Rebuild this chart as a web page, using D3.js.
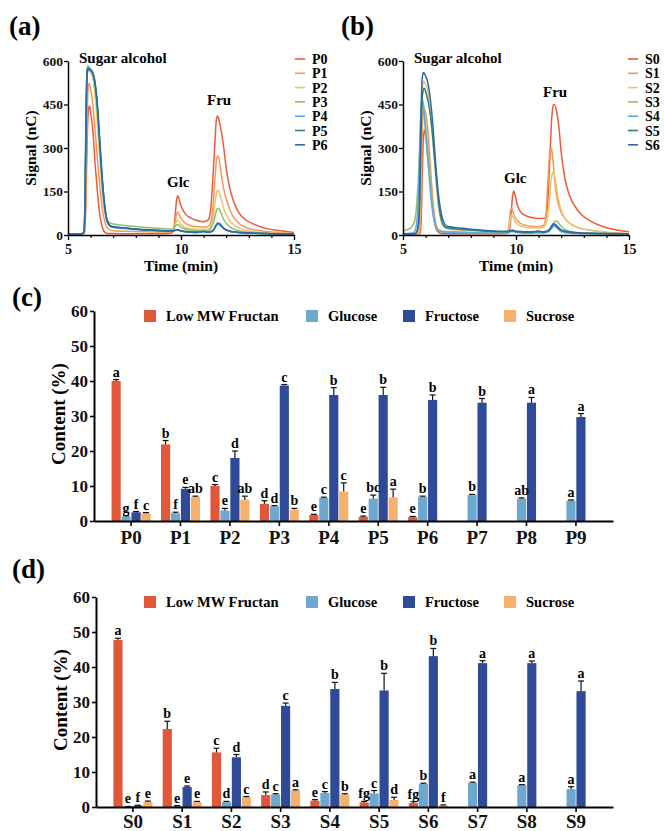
<!DOCTYPE html>
<html>
<head>
<meta charset="utf-8">
<script src="https://cdn.jsdelivr.net/npm/d3@7"></script>
<style>
    body { margin: 0; background: #fff; }
    svg { display: block; }
</style>
</head>
<body>
<div id="vis"></div>
<script>
/* Chromatograms (a, b) and sugar content bars (c, d) */

// Retention time grid (min), shared by all traces
var times = [
    5.0, 5.3, 5.5, 5.6, 5.7, 5.75, 5.8, 5.85, 5.9, 5.95, 6.0, 6.1, 6.2, 6.3, 6.4, 6.5, 6.6, 6.7, 6.8, 6.9, 7.0, 7.5, 8.0, 8.5, 9.0, 9.4,
    9.6, 9.7, 9.75, 9.8, 9.85, 9.9, 9.95, 10.05, 10.2, 10.4, 10.7, 11.0, 11.2,
    11.3, 11.4, 11.5, 11.55, 11.6, 11.65, 11.7, 11.8, 11.9, 12.0, 12.15, 12.35, 12.6, 12.9, 13.3, 13.8, 14.4, 15.0
];

// Signal (nC), panel (a)
var sigP0 = [3, 3, 3, 3, 4, 20, 150, 330, 430, 445, 425, 360, 245, 150, 75, 32, 12, 6, 5, 5, 5, 4, 4, 4, 4, 5,
    8, 30, 75, 118, 135, 128, 112, 92, 72, 60, 50, 46, 52,
    80, 180, 320, 385, 410, 405, 390, 350, 295, 230, 165, 110, 72, 50, 35, 22, 15, 9];
var sigP1 = [3, 3, 3, 3, 5, 30, 200, 420, 515, 522, 505, 450, 360, 265, 175, 100, 55, 30, 20, 16, 15, 13, 12, 11, 10, 10,
    12, 25, 48, 72, 79, 74, 65, 52, 40, 33, 29, 27, 29,
    40, 85, 190, 245, 270, 272, 255, 200, 155, 125, 90, 58, 38, 25, 17, 12, 8, 5];
var sigP2 = [3, 3, 3, 4, 8, 80, 380, 545, 568, 565, 560, 540, 480, 385, 270, 160, 90, 52, 36, 30, 28, 24, 21, 19, 17, 16,
    17, 24, 35, 47, 51, 48, 42, 33, 26, 22, 20, 19, 20,
    27, 55, 105, 135, 152, 155, 145, 118, 90, 70, 50, 34, 23, 16, 11, 8, 6, 4];
var sigP3 = [3, 3, 3, 4, 10, 110, 450, 583, 582, 576, 570, 555, 510, 430, 310, 195, 110, 62, 45, 40, 38, 33, 29, 26, 23, 21,
    21, 25, 30, 35, 36, 34, 30, 25, 20, 17, 15, 14, 15,
    20, 35, 62, 80, 90, 92, 88, 70, 52, 40, 29, 20, 14, 10, 8, 6, 5, 4];
var sigP4 = [3, 3, 3, 4, 12, 120, 440, 575, 580, 577, 572, 560, 520, 440, 320, 200, 110, 55, 35, 28, 26, 22, 19, 16, 14, 13,
    13, 14, 16, 18, 18, 17, 15, 13, 11, 10, 9, 11, 9,
    10, 14, 24, 31, 36, 38, 36, 28, 21, 17, 13, 10, 8, 7, 6, 5, 4, 4];
var sigP5 = [3, 3, 3, 4, 10, 100, 420, 570, 575, 572, 568, 556, 518, 440, 322, 205, 115, 58, 37, 30, 28, 24, 20, 17, 15, 14,
    14, 15, 16, 17, 17, 16, 15, 13, 11, 10, 9, 12, 9,
    10, 14, 25, 33, 38, 40, 38, 30, 22, 17, 13, 10, 8, 7, 6, 5, 4, 4];
var sigP6 = [3, 3, 3, 4, 8, 80, 380, 560, 572, 570, 567, 558, 525, 452, 335, 215, 120, 60, 38, 31, 29, 25, 21, 18, 16, 15,
    15, 16, 17, 18, 18, 17, 16, 14, 12, 11, 10, 13, 10,
    11, 15, 26, 34, 39, 41, 39, 31, 23, 18, 14, 11, 9, 7, 6, 5, 4, 4];

// Signal (nC), panel (b)
var sigS0 = [3, 3, 3, 3, 3, 5, 40, 200, 330, 362, 345, 265, 180, 105, 40, 17, 8, 5, 4, 4, 4, 4, 4, 4, 4, 5,
    6, 15, 40, 90, 135, 152, 140, 105, 80, 68, 60, 57, 58,
    60, 110, 270, 360, 420, 448, 450, 425, 370, 285, 200, 140, 100, 70, 48, 30, 18, 11];
var sigS1 = [3, 3, 3, 3, 5, 30, 150, 350, 430, 435, 420, 360, 250, 140, 65, 25, 14, 11, 10, 10, 10, 9, 8, 7, 6, 6,
    10, 40, 80, 92, 85, 72, 62, 50, 40, 34, 30, 29, 32,
    50, 170, 290, 302, 285, 245, 200, 135, 100, 78, 58, 42, 30, 22, 16, 11, 7, 5];
var sigS2 = [3, 3, 3, 4, 8, 60, 280, 480, 530, 528, 520, 495, 430, 345, 250, 150, 80, 45, 30, 24, 21, 17, 15, 13, 12, 11,
    12, 30, 55, 68, 65, 55, 47, 38, 31, 27, 25, 24, 26,
    33, 60, 140, 185, 210, 216, 205, 160, 115, 85, 60, 42, 30, 22, 16, 11, 7, 5];
var sigS3 = [15, 22, 45, 100, 230, 330, 440, 470, 455, 420, 380, 295, 200, 110, 50, 25, 17, 14, 13, 12, 12, 10, 9, 8, 7, 7,
    8, 10, 12, 15, 16, 15, 13, 11, 9, 8, 8, 9, 9,
    10, 13, 20, 26, 33, 40, 46, 48, 40, 30, 20, 13, 9, 7, 6, 5, 4, 3];
var sigS4 = [5, 6, 10, 40, 180, 320, 430, 460, 440, 400, 350, 260, 160, 85, 42, 22, 14, 11, 10, 9, 9, 8, 7, 7, 6, 6,
    6, 8, 10, 12, 12, 11, 10, 9, 8, 7, 7, 8, 7,
    8, 10, 15, 20, 25, 29, 30, 25, 17, 12, 9, 7, 6, 5, 5, 4, 4, 3];
var sigS5 = [3, 3, 4, 8, 40, 150, 350, 470, 500, 506, 495, 465, 420, 350, 260, 170, 95, 52, 32, 26, 24, 20, 17, 14, 12, 11,
    11, 12, 13, 14, 14, 13, 12, 11, 10, 9, 9, 12, 9,
    10, 13, 20, 26, 31, 34, 35, 30, 22, 16, 12, 9, 7, 6, 5, 5, 4, 4];
var sigS6 = [3, 3, 4, 10, 60, 200, 420, 540, 560, 556, 548, 525, 475, 400, 295, 195, 120, 72, 45, 33, 29, 24, 20, 17, 14, 13,
    13, 14, 15, 16, 16, 15, 14, 13, 12, 11, 11, 14, 11,
    12, 15, 22, 28, 34, 38, 38, 32, 24, 18, 14, 11, 9, 7, 6, 5, 5, 4];

var namesA = ['P0', 'P1', 'P2', 'P3', 'P4', 'P5', 'P6'];
var namesB = ['S0', 'S1', 'S2', 'S3', 'S4', 'S5', 'S6'];
var chromYTicks = [0, 150, 300, 450, 600];
var chromXTicks = [5, 10, 15];
var lineColors = ['#ee5a3c', '#f5975a', '#ebc46b', '#8ec06f', '#5ca9ee', '#2e8078', '#2d69a8'];

// Bar chart data, panel (c)
var catsC = ['P0', 'P1', 'P2', 'P3', 'P4', 'P5', 'P6', 'P7', 'P8', 'P9'];
var fructanC = [40.0, 21.9, 10.0, 4.9, 1.7, 1.2, 1.1, null, null, null];
var fructanCErr = [0.4, 1.1, 0.4, 0.9, 0.2, 0.2, 0.2, null, null, null];
var glucoseC = [1.3, 2.2, 3.0, 4.2, 6.6, 6.4, 6.9, 7.4, 6.4, 5.8];
var glucoseCErr = [0.2, 0.3, 0.6, 0.2, 0.2, 1.0, 0.2, 0.2, 0.2, 0.2];
var fructoseC = [2.5, 9.2, 18.0, 38.7, 36.0, 36.0, 34.6, 33.8, 33.8, 29.7];
var fructoseCErr = [0.2, 0.4, 2.0, 0.3, 2.1, 2.2, 1.4, 1.2, 1.5, 1.0];
var sucroseC = [2.2, 6.9, 6.1, 3.2, 8.4, 6.7, null, null, null, null];
var sucroseCErr = [0.2, 0.2, 1.0, 0.4, 2.5, 2.4, null, null, null, null];
var lettersC = [
    ['a', 'g', 'f', 'c'], ['b', 'f', 'e', 'ab'], ['c', 'e', 'd', 'ab'], ['d', 'd', 'c', 'b'], ['e', 'c', 'b', 'c'],
    ['e', 'bc', 'b', 'a'], ['e', 'b', 'b', ''], ['', 'b', 'b', ''], ['', 'ab', 'a', ''], ['', 'a', 'a', '']
];

// Bar chart data, panel (d)
var catsD = ['S0', 'S1', 'S2', 'S3', 'S4', 'S5', 'S6', 'S7', 'S8', 'S9'];
var fructanD = [47.7, 22.3, 15.6, 3.4, 1.8, 1.3, 1.1, null, null, null];
var fructanDErr = [0.5, 2.2, 1.2, 0.9, 0.3, 0.3, 0.4, null, null, null];
var glucoseD = [0.1, 0.3, 1.4, 3.6, 4.0, 3.9, 6.6, 6.9, 6.3, 5.1];
var glucoseDErr = [0.05, 0.1, 0.2, 0.2, 0.4, 0.8, 0.2, 0.2, 0.1, 0.7];
var fructoseD = [0.4, 5.7, 14.2, 28.9, 33.7, 33.3, 43.1, 41.1, 41.1, 33.1];
var fructoseDErr = [0.1, 0.3, 0.8, 0.8, 1.9, 4.9, 2.2, 0.7, 0.6, 2.9];
var sucroseD = [1.5, 1.4, 2.8, 4.7, 3.6, 2.0, 0.4, null, null, null];
var sucroseDErr = [0.2, 0.2, 0.2, 0.2, 0.2, 0.8, 0.2, null, null, null];
var lettersD = [
    ['a', 'e', 'f', 'e'], ['b', 'e', 'e', 'e'], ['c', 'd', 'd', 'c'], ['d', 'c', 'c', 'a'], ['e', 'c', 'b', 'b'],
    ['fg', 'c', 'b', 'd'], ['fg', 'b', 'b', 'f'], ['', 'a', 'a', ''], ['', 'a', 'a', ''], ['', 'a', 'a', '']
];

var seriesNames = ['Low MW Fructan', 'Glucose', 'Fructose', 'Sucrose'];
var barColors = ['#e1573a', '#6ea8cf', '#2f4a97', '#f4b06c'];
var barYTicks = [0, 10, 20, 30, 40, 50, 60];

var serif = "'Liberation Serif', 'Times New Roman', Times, serif";

// Select SVG and set dimensions
var svg = d3.select('#vis')
    .append('svg')
    .attr('width', 664)
    .attr('height', 831)
    .attr('font-family', serif)
    .attr('font-weight', 'bold');

svg.append('rect').attr('width', 664).attr('height', 831).attr('fill', '#fff');

// Give axis groups the serif face instead of d3's default sans-serif
var styleAxis = function(a, size, domainW, tickW) {
    a.attr('font-family', serif).attr('font-weight', 'bold').attr('font-size', size);
    a.selectAll('text').attr('fill', '#111');
    a.select('.domain').attr('stroke-width', domainW);
    a.selectAll('.tick line').attr('stroke-width', tickW);
};

// Panel letter
var panelLabel = function(txt, x, y) {
    svg.append('text')
        .attr('x', x)
        .attr('y', y)
        .attr('font-size', 27)
        .text(txt);
};

/* ********************************** Chromatogram panel ********************************** */
var drawChrom = function(cfg) {
    var xScale = d3.scaleLinear().domain([5, 15]).range([cfg.left, cfg.left + 226]);
    var yScale = d3.scaleLinear().domain([0, 600]).range([235, 61]);

    var line = d3.line()
        .x(function(d) { return xScale(d[0]); })
        .y(function(d) { return yScale(d[1]); })
        .curve(d3.curveMonotoneX);

    // Traces
    cfg.series.forEach(function(vals, i) {
        svg.append('path')
            .datum(times.map(function(t, j) { return [t, vals[j]]; }))
            .attr('d', line)
            .attr('fill', 'none')
            .attr('stroke', lineColors[i])
            .attr('stroke-width', 1.5)
            .attr('stroke-linejoin', 'round');
    });

    // Minor ticks on the time axis
    svg.append('g')
        .attr('transform', 'translate(0,235)')
        .call(d3.axisBottom(xScale).tickValues(d3.range(6, 15)).tickSize(3).tickFormat(''))
        .call(function(g) { g.select('.domain').remove(); })
        .selectAll('line').attr('stroke-width', 1.2);

    // x axis
    var xAxis = svg.append('g')
        .attr('transform', 'translate(0,235)')
        .call(d3.axisBottom(xScale).tickValues(chromXTicks).tickSize(5).tickSizeOuter(0).tickPadding(4));
    styleAxis(xAxis, 14, 1.5, 1.3);

    // y axis
    var yAxis = svg.append('g')
        .attr('transform', 'translate(' + cfg.left + ',0)')
        .call(d3.axisLeft(yScale).tickValues(chromYTicks).tickSize(4).tickSizeOuter(0).tickPadding(1));
    styleAxis(yAxis, 13.5, 1.5, 1.3);

    // Axis titles
    svg.append('text')
        .attr('transform', 'translate(' + (cfg.left - 32) + ',148) rotate(-90)')
        .attr('text-anchor', 'middle')
        .attr('font-size', 15.5)
        .text('Signal (nC)');
    svg.append('text')
        .attr('x', cfg.left + 113)
        .attr('y', 271)
        .attr('text-anchor', 'middle')
        .attr('font-size', 15.5)
        .text('Time (min)');

    // Peak annotations
    cfg.notes.forEach(function(n) {
        svg.append('text')
            .attr('x', n[1])
            .attr('y', n[2])
            .attr('font-size', 15)
            .text(n[0]);
    });

    // Legend
    cfg.names.forEach(function(name, i) {
        var y = 59 + i * 14.3;
        svg.append('line')
            .attr('x1', cfg.legendX).attr('x2', cfg.legendX + 10)
            .attr('y1', y).attr('y2', y)
            .attr('stroke', lineColors[i])
            .attr('stroke-width', 1.6);
        svg.append('text')
            .attr('x', cfg.legendX + 17)
            .attr('y', y + 5)
            .attr('font-size', 14)
            .text(name);
    });
};

/* ********************************** Grouped bar panel ********************************** */
var drawBars = function(cfg) {
    var xScale = d3.scaleBand()
        .domain(cfg.cats)
        .range([cfg.left, 613])
        .paddingInner(0)
        .paddingOuter(0.25);

    var inner = d3.scaleBand()
        .domain([0, 1, 2, 3])
        .range([-19.5, 19.5])
        .paddingInner(0.08);

    var yScale = d3.scaleLinear()
        .domain([0, 60])
        .range([cfg.base, cfg.base - 210]);

    // Flatten the series into one row per bar
    var rows = [];
    cfg.cats.forEach(function(c, i) {
        cfg.values.forEach(function(vals, s) {
            if (vals[i] !== null) {
                rows.push({cat: c, s: s, v: vals[i], e: cfg.errs[s][i], letter: cfg.letters[i][s]});
            }
        });
    });

    var barX = function(d) {
        return xScale(d.cat) + xScale.bandwidth() / 2 + inner(d.s);
    };
    var mid = function(d) { return barX(d) + inner.bandwidth() / 2; };

    var g = svg.append('g');

    // Bars
    g.selectAll('rect.bar')
        .data(rows)
        .enter().append('rect')
        .attr('class', 'bar')
        .attr('x', barX)
        .attr('width', inner.bandwidth())
        .attr('y', function(d) { return yScale(d.v); })
        .attr('height', function(d) { return cfg.base - yScale(d.v); })
        .attr('fill', function(d) { return barColors[d.s]; });

    // Error bars (upper only)
    g.selectAll('line.err')
        .data(rows)
        .enter().append('line')
        .attr('x1', mid).attr('x2', mid)
        .attr('y1', function(d) { return yScale(d.v); })
        .attr('y2', function(d) { return yScale(d.v + d.e); })
        .attr('stroke', '#111')
        .attr('stroke-width', 1.2);
    g.selectAll('line.cap')
        .data(rows)
        .enter().append('line')
        .attr('x1', function(d) { return mid(d) - 3; })
        .attr('x2', function(d) { return mid(d) + 3; })
        .attr('y1', function(d) { return yScale(d.v + d.e); })
        .attr('y2', function(d) { return yScale(d.v + d.e); })
        .attr('stroke', '#111')
        .attr('stroke-width', 1.2);

    // Significance letters
    g.selectAll('text.sig')
        .data(rows)
        .enter().append('text')
        .attr('x', mid)
        .attr('y', function(d) { return yScale(d.v + d.e) - 3; })
        .attr('text-anchor', 'middle')
        .attr('font-size', 14)
        .text(function(d) { return d.letter; });

    // x axis
    var xAxis = svg.append('g')
        .attr('transform', 'translate(0,' + cfg.base + ')')
        .call(d3.axisBottom(xScale).tickSize(5).tickSizeOuter(0).tickPadding(cfg.labelPad));
    styleAxis(xAxis, 19, 2, 1.6);

    // y axis
    var yAxis = svg.append('g')
        .attr('transform', 'translate(' + cfg.left + ',0)')
        .call(d3.axisLeft(yScale).tickValues(barYTicks).tickSize(4).tickSizeOuter(0).tickPadding(2));
    styleAxis(yAxis, 17, 2, 1.6);

    // y-axis title
    svg.append('text')
        .attr('transform', 'translate(' + (cfg.left - 29) + ',' + (cfg.base - 107) + ') rotate(-90)')
        .attr('text-anchor', 'middle')
        .attr('font-size', 19)
        .text('Content (%)');

    // Legend
    var legendX = [144, 306, 403, 504];
    seriesNames.forEach(function(name, i) {
        svg.append('rect')
            .attr('x', legendX[i])
            .attr('y', cfg.base - 211)
            .attr('width', 12)
            .attr('height', 12)
            .attr('fill', barColors[i]);
        svg.append('text')
            .attr('x', legendX[i] + 22)
            .attr('y', cfg.base - 200)
            .attr('font-size', 14.5)
            .text(name);
    });
};

/* ********************************** Draw all panels ********************************** */
panelLabel('(a)', 9, 35);
panelLabel('(b)', 341, 35);
panelLabel('(c)', 12, 306);
panelLabel('(d)', 12, 578);

drawChrom({
    left: 68,
    legendX: 295,
    names: namesA,
    series: [sigP0, sigP1, sigP2, sigP3, sigP4, sigP5, sigP6],
    notes: [['Sugar alcohol', 79, 63], ['Glc', 167, 187], ['Fru', 207, 105]]
});

drawChrom({
    left: 403,
    legendX: 628,
    names: namesB,
    series: [sigS0, sigS1, sigS2, sigS3, sigS4, sigS5, sigS6],
    notes: [['Sugar alcohol', 414, 63], ['Glc', 504, 183], ['Fru', 543, 97]]
});

drawBars({
    left: 94,
    base: 521,
    labelPad: 5,
    cats: catsC,
    values: [fructanC, glucoseC, fructoseC, sucroseC],
    errs: [fructanCErr, glucoseCErr, fructoseCErr, sucroseCErr],
    letters: lettersC
});

drawBars({
    left: 96,
    base: 807,
    labelPad: 3,
    cats: catsD,
    values: [fructanD, glucoseD, fructoseD, sucroseD],
    errs: [fructanDErr, glucoseDErr, fructoseDErr, sucroseDErr],
    letters: lettersD
});
</script>
</body>
</html>
